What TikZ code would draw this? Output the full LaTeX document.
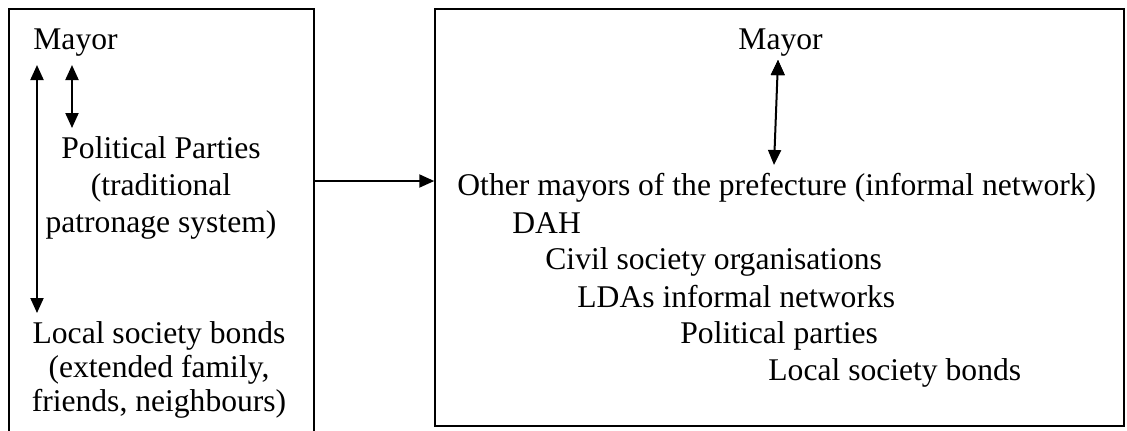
\documentclass[tikz,border=0pt]{standalone}
\usepackage{fontspec}
\setmainfont{Liberation Serif}
\usepackage{tikz}
\usetikzlibrary{arrows.meta,positioning}
\tikzset{>={Triangle[length=7.5pt,width=6.5pt]}}
\tikzset{txt/.style={inner sep=0pt,font=\fontsize{15.8pt}{18.5pt}\selectfont},
         box/.style={draw,line width=0.75pt},
         link/.style={line width=1pt,<->},
            }

\begin{document}
\begin{tikzpicture}[x=0.5pt,y=-0.5pt]
    \useasboundingbox (0,0) rectangle (1127,430);

    % left box, open at the bottom
    \draw[box] (9,432) -- (9,9) -- (314,9) -- (314,432);
    \node[box,minimum width=344.5pt,minimum height=208.5pt,inner sep=0pt] (rbox) at (779.5,217.5) {};

    \node[txt,anchor=base west] (lmayor) at (33,49) {Mayor};
    \node[txt,anchor=base,align=center] (lparties) at (161,232) {Political Parties\\(traditional\\patronage system)};
    \node[txt,anchor=base,align=center,font=\fontsize{15.8pt}{17pt}\selectfont] (lbonds) at (159,411) {Local society bonds\\(extended family,\\friends, neighbours)};

    \node[txt,anchor=base west] (rmayor) at (738,49) {Mayor};
    \node[txt,anchor=base west] (others) at (457,195) {Other mayors of the prefecture (informal network)};
    \node[txt,anchor=base west] (dah) at (512,233) {DAH};
    \node[txt,anchor=base west] (civil) at (545,269) {Civil society organisations};
    \node[txt,anchor=base west] (ldas) at (577,307) {LDAs informal networks};
    \node[txt,anchor=base west] (parties) at (680,343) {Political parties};
    \node[txt,anchor=base west] (bonds) at (768,380) {Local society bonds};

    \coordinate (la) at (37,65);
    \coordinate (lb) at (37,313);
    \coordinate (sa) at (72,65);
    \coordinate (sb) at (72,128);
    \coordinate (ra) at (778,60);
    \coordinate (rb) at (774,165);
    \coordinate (out) at (314,181);

    \path[draw,link]
    (la) edge (lb)
    (sa) edge (sb)
    (ra) edge (rb);

    \draw[line width=1pt,->] (out) -- (rbox.west |- out);

\end{tikzpicture}
\end{document}
